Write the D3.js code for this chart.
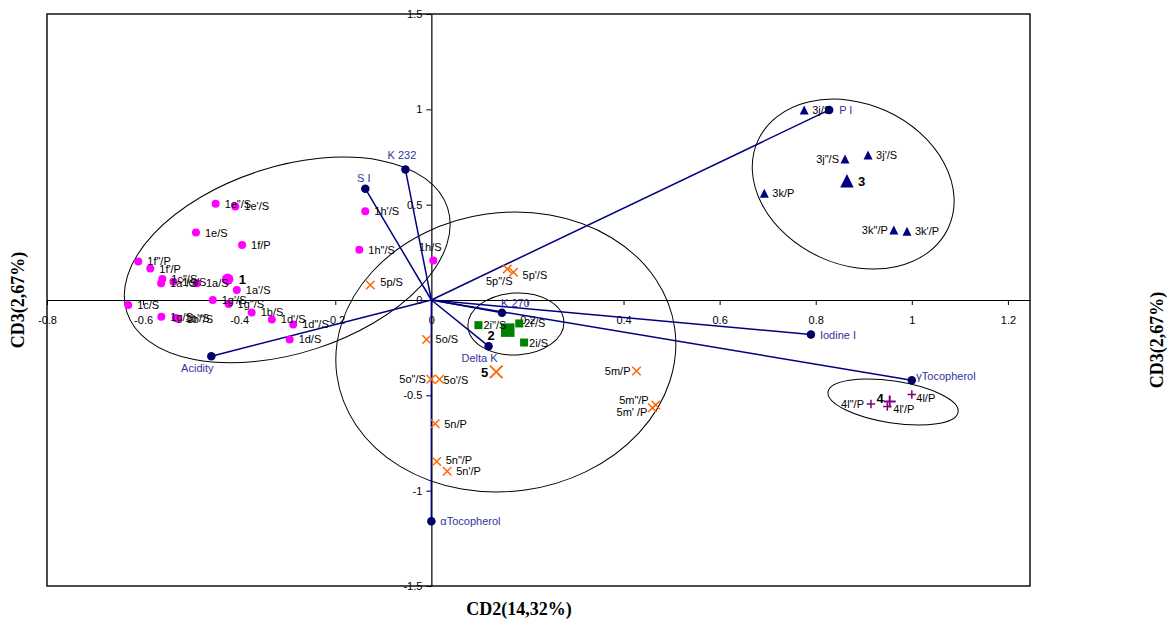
<!DOCTYPE html>
<html>
<head>
<meta charset="utf-8">
<script src="https://cdn.jsdelivr.net/npm/d3@7"></script>
<style>
  body { margin: 0; background: #fff; }
  svg { display: block; }
</style>
</head>
<body>
<svg id="chart" width="1170" height="625"></svg>
<script>
// ---- Observation scores on CD2 / CD3, one list per group: [label, CD2, CD3]
const group1 = [
  ['1e"/S', -0.449, 0.505], ["1e'/S", -0.408, 0.491], ["1e/S", -0.490, 0.354],
  ["1f/P", -0.394, 0.289], ['1f"/P', -0.610, 0.202], ["1f'/P", -0.585, 0.165],
  ['1c"/S', -0.560, 0.110], ['1a"/S', -0.5625, 0.088], ["1c'/S", -0.537, 0.096],
  ["1a/S", -0.488, 0.088], ["1a'/S", -0.405, 0.053], ["1g'/S", -0.455, 0.000],
  ['1g"/S', -0.422, -0.021], ["1c/S", -0.631, -0.026], ["1b/S", -0.374, -0.065],
  ["1g/S", -0.562, -0.088], ["1b'/S", -0.532, -0.094], ['1b"/S', -0.528, -0.098],
  ["1d'/S", -0.332, -0.102], ['1d"/S', -0.2875, -0.128], ["1d/S", -0.295, -0.207],
  ["1h'/S", -0.1375, 0.465], ['1h"/S', -0.150, 0.263], ["1h/S", 0.004, 0.207]
];
const group2 = [
  ['2i"/S', 0.098, -0.132], ["2i'/S", 0.183, -0.123], ["2i/S", 0.193, -0.223]
];
const group3 = [
  ["3j/S", 0.776, 0.997], ['3j"/S', 0.861, 0.740], ["3j'/S", 0.909, 0.760],
  ["3k/P", 0.693, 0.560], ['3k"/P', 0.9625, 0.367], ["3k'/P", 0.990, 0.360]
];
const group4 = [
  ["4l/P", 1.000, -0.496], ['4l"/P', 0.915, -0.546], ["4l'/P", 0.949, -0.558]
];
const group5 = [
  ["5p/S", -0.127, 0.079], ['5p"/S', 0.158, 0.163], ["5p'/S", 0.171, 0.146],
  ["5o/S", -0.010, -0.207], ['5o"/S', -0.001, -0.416], ["5o'/S", 0.017, -0.416],
  ["5m/P", 0.427, -0.372], ['5m"/P', 0.467, -0.551], ["5m' /P", 0.460, -0.565],
  ["5n/P", 0.008, -0.649], ['5n"/P', 0.011, -0.847], ["5n'/P", 0.033, -0.898]
];
// Group centroids: [label, CD2, CD3]
const centroids = [
  ["1", -0.424, 0.109], ["2", 0.159, -0.158], ["3", 0.865, 0.626],
  ["4", 0.954, -0.532], ["5", 0.135, -0.377]
];
// Variable loadings: [label, CD2, CD3]
const variables = [
  ["K 232", -0.054, 0.684], ["S I", -0.1375, 0.584], ["K 270", 0.147, -0.067],
  ["Delta K", 0.119, -0.242], ["P I", 0.828, 0.997], ["Iodine I", 0.790, -0.181],
  ["\u03B3Tocopherol", 1.000, -0.421], ["\u03B1Tocopherol", 0.000, -1.161],
  ["Acidity", -0.458, -0.295]
];
// Group ellipses: [centre CD2, centre CD3, semi-axis a, semi-axis b (in CD2 units), tilt in degrees]
const ellipses = [
  [-0.300, 0.210, 0.351, 0.194, -18],
  [0.155, -0.273, 0.355, 0.290, -8],
  [0.176, -0.126, 0.100, 0.0645, -3],
  [0.878, 0.608, 0.218, 0.167, 24.5],
  [0.961, -0.535, 0.137, 0.0435, 8.8]
];
const xTicks = [-0.8, -0.6, -0.4, -0.2, 0, 0.2, 0.4, 0.6, 0.8, 1, 1.2];
const yTicks = [-1.5, -1, -0.5, 0, 0.5, 1, 1.5];
const xTitle = "CD2(14,32%)";
const yTitle = "CD3(2,67%)";

// ---- Layout
const svg = d3.select("#chart");
const x = d3.scaleLinear().domain([-0.8, 1.246]).range([47, 1030]);
const y = d3.scaleLinear().domain([-1.5, 1.5]).range([586, 14]);
const unitPx = x(1) - x(0);
const sans = "'Liberation Sans', Arial, sans-serif";
const serif = "'Liberation Serif', 'Times New Roman', serif";

// label placement tweaks: [dx, dy, anchor]
const labelPlace = {
  "1h/S": [-3, -10, "middle"],
  '5p"/S': [-8, 16, "middle"],
  "5p'/S": [9, 7, "start"],
  "5p/S": [10, 1, "start"],
  '5o"/S': [-5, 4, "end"],
  "5o'/S": [4, 5, "start"],
  "5m/P": [-6, 4, "end"],
  '5m"/P': [-7, -1, "end"],
  "5m' /P": [-5, 8, "end"],
  '5n"/P': [9, 3, "start"],
  '3j"/S': [-6, 4, "end"],
  '3k"/P': [-6, 4, "end"],
  '4l"/P': [-7, 4, "end"],
  "4l'/P": [6, 7, "start"],
  "4l/P": [4.5, 7, "start"],
  "1": [11, 5, "start"],
  "2": [-13, 10, "end"],
  "3": [11, 5, "start"],
  "4": [-6, 2, "end"],
  "5": [-8, 5, "end"],
  "K 232": [-3.5, -11, "middle"],
  "S I": [-1.5, -7, "middle"],
  "K 270": [-1, -6, "start"],
  "Delta K": [-9, 16, "middle"],
  "P I": [10, 4, "start"],
  "\u03B3Tocopherol": [4.5, 0, "start"],
  "Acidity": [-14, 16, "middle"]
};

// ---- Ellipses
svg.append("g").selectAll("ellipse").data(ellipses).join("ellipse")
  .attr("transform", d => `translate(${x(d[0])},${y(d[1])}) rotate(${d[4]})`)
  .attr("rx", d => d[2] * unitPx)
  .attr("ry", d => d[3] * unitPx)
  .attr("fill", "none").attr("stroke", "#000").attr("stroke-width", 1);

// ---- Frame
svg.append("rect")
  .attr("x", x(-0.8)).attr("y", y(1.5))
  .attr("width", x(1.246) - x(-0.8)).attr("height", y(-1.5) - y(1.5))
  .attr("fill", "none").attr("stroke", "#000").attr("stroke-width", 1.4);

// ---- Axes through the origin
const fmt = d => String(+d.toFixed(1));
const gx = svg.append("g").attr("transform", `translate(0,${y(0)})`)
  .call(d3.axisBottom(x).tickValues(xTicks).tickSize(5).tickSizeOuter(0).tickPadding(11).tickFormat(fmt));
const gy = svg.append("g").attr("transform", `translate(${x(0)},0)`)
  .call(d3.axisLeft(y).tickValues(yTicks).tickSize(5).tickSizeOuter(0).tickPadding(4).tickFormat(fmt));
[gx, gy].forEach(g => {
  g.selectAll("path.domain").attr("stroke", "#000").attr("stroke-width", 1.2);
  g.selectAll(".tick line").attr("stroke", "#000");
  g.selectAll(".tick text").attr("fill", "#000").style("font-family", sans).style("font-size", "11px");
});

// ---- Loading vectors
svg.append("g").selectAll("line").data(variables).join("line")
  .attr("x1", x(0)).attr("y1", y(0))
  .attr("x2", d => x(d[1])).attr("y2", d => y(d[2]))
  .attr("stroke", "#000080").attr("stroke-width", 1.5);

// ---- Marker shapes
function shapePath(kind, s) {
  const h = s / 2;
  switch (kind) {
    case "square": return `M${-h},${-h}H${h}V${h}H${-h}Z`;
    case "triangle": return `M0,${-h}L${h},${h}L${-h},${h}Z`;
    case "plus": return `M${-h},0H${h}M0,${-h}V${h}`;
    case "x": return `M${-h},${-h}L${h},${h}M${-h},${h}L${h},${-h}`;
  }
}
function drawMarkers(data, kind, size, color, sw) {
  const g = svg.append("g");
  if (kind === "circle") {
    g.selectAll("circle").data(data).join("circle")
      .attr("cx", d => x(d[1])).attr("cy", d => y(d[2]))
      .attr("r", size / 2).attr("fill", color);
  } else {
    const filled = kind === "square" || kind === "triangle";
    g.selectAll("path").data(data).join("path")
      .attr("transform", d => `translate(${x(d[1])},${y(d[2])})`)
      .attr("d", shapePath(kind, size))
      .attr("fill", filled ? color : "none")
      .attr("stroke", filled ? "none" : color)
      .attr("stroke-width", sw || 0);
  }
}
function drawLabels(data, dxDefault, color, weight, fontSize) {
  svg.append("g").selectAll("text").data(data).join("text")
    .each(function (d) {
      const p = labelPlace[d[0]] || [dxDefault, 4, "start"];
      d3.select(this)
        .attr("x", x(d[1]) + p[0]).attr("y", y(d[2]) + p[1])
        .attr("text-anchor", p[2]);
    })
    .text(d => d[0])
    .attr("fill", color)
    .style("font-family", sans)
    .style("font-size", fontSize + "px")
    .style("font-weight", weight);
}

drawMarkers(group1, "circle", 8, "#FF00FF");
drawMarkers([centroids[0]], "circle", 11.5, "#FF00FF");
drawMarkers(group2, "square", 8, "#008000");
drawMarkers([centroids[1]], "square", 13.5, "#008000");
drawMarkers(group3, "triangle", 9, "#000080");
drawMarkers([centroids[2]], "triangle", 13.5, "#000080");
drawMarkers(group4, "plus", 8.5, "#800080", 1.5);
drawMarkers([centroids[3]], "plus", 12, "#800080", 2);
drawMarkers(group5, "x", 8.5, "#FF6600", 1.5);
drawMarkers([centroids[4]], "x", 12.5, "#FF6600", 2);

drawLabels(group1, 9, "#000", "normal", 11);
drawLabels(group2, 5, "#000", "normal", 11);
drawLabels(group3, 8, "#000", "normal", 11);
drawLabels(group4, 5, "#000", "normal", 11);
drawLabels(group5, 9, "#000", "normal", 11);
drawLabels(centroids, 10, "#000", "bold", 13);

drawMarkers(variables, "circle", 8.5, "#000066");
drawLabels(variables, 9, "#333399", "normal", 11);

// ---- Axis titles
svg.append("text").attr("x", 519).attr("y", 615).attr("text-anchor", "middle")
  .style("font-family", serif).style("font-weight", "bold").style("font-size", "18px")
  .text(xTitle);
[[18, 300], [1157, 340]].forEach(([tx, ty]) => {
  svg.append("text").attr("transform", `translate(${tx},${ty}) rotate(-90)`)
    .attr("text-anchor", "middle").attr("dy", "0.35em")
    .style("font-family", serif).style("font-weight", "bold").style("font-size", "18px")
    .text(yTitle);
});
</script>
</body>
</html>
